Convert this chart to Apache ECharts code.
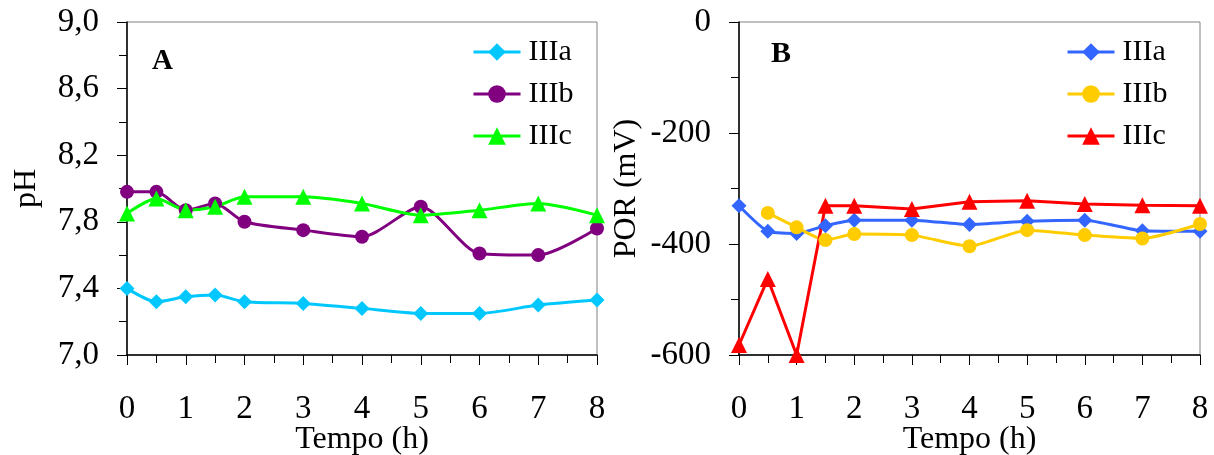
<!DOCTYPE html>
<html>
<head>
<meta charset="utf-8">
<script src="https://cdn.jsdelivr.net/npm/echarts@6/dist/echarts.min.js"></script>
<style>
html,body{margin:0;padding:0;background:#fff;overflow:hidden;}
#chart{width:1214px;height:455px;}
</style>
</head>
<body>
<div id="chart"></div>
<script>
// Time points (h)
var tempo = [0, 0.5, 1, 1.5, 2, 3, 4, 5, 6, 7, 8];
var xTicks = [0, 1, 2, 3, 4, 5, 6, 7, 8];

// Panel A: pH
var pH_IIIa = [7.40, 7.32, 7.35, 7.36, 7.32, 7.31, 7.28, 7.25, 7.25, 7.30, 7.33];
var pH_IIIb = [7.98, 7.98, 7.87, 7.91, 7.80, 7.75, 7.71, 7.89, 7.61, 7.60, 7.76];
var pH_IIIc = [7.85, 7.94, 7.87, 7.89, 7.95, 7.95, 7.91, 7.84, 7.87, 7.91, 7.84];

// Panel B: POR (mV)
var por_IIIa = [-331, -377, -381, -367, -357, -357, -365, -359, -357, -376, -377];
var por_IIIb = [null, -344, -370, -393, -382, -384, -404, -375, -384, -390, -364];
var por_IIIc = [-582, -463, -600, -331, -331, -337, -324, -322, -328, -330, -331];

var seriesNames = ['IIIa', 'IIIb', 'IIIc'];
var yTicksA = ['7,0', '7,4', '7,8', '8,2', '8,6', '9,0'];
var yTicksB = ['-600', '-400', '-200', '0'];

function pairs(xs, ys) {
  return xs.map(function (x, i) { return [x, ys[i] === null ? '-' : ys[i]]; });
}

var FONT = 'Liberation Serif';
var black = '#000';

function xAxis(gridIndex) {
  return {
    type: 'value', gridIndex: gridIndex, min: 0, max: 8, interval: 1,
    name: 'Tempo (h)', nameLocation: 'middle', nameGap: 69, nameMoveOverlap: false,
    nameTextStyle: { fontFamily: FONT, fontSize: 32, color: black },
    axisLine: { show: true, onZero: false, lineStyle: { color: black, width: 1.5 } },
    axisTick: { show: true, length: 10, lineStyle: { color: black, width: 1 } },
    minorTick: { show: true, splitNumber: 2, length: 8, lineStyle: { color: black, width: 1 } },
    splitLine: { show: false },
    axisLabel: { fontFamily: FONT, fontSize: 33, color: black, margin: 38,
      formatter: function (v) { return xTicks.indexOf(v) >= 0 ? String(v) : ''; } }
  };
}

function legend(names, left, fmt) {
  return {
    data: names, orient: 'vertical', left: left, top: 32, itemWidth: 47, itemHeight: 22, itemGap: 12,
    formatter: fmt,
    lineStyle: { width: 3 },
    textStyle: { fontFamily: FONT, fontSize: 30, color: black, padding: [0, 0, 0, 3] }
  };
}

var option = {
  animation: false,
  backgroundColor: '#fff',
  title: [
    { text: 'A', left: 147, top: 42, textStyle: { fontFamily: FONT, fontSize: 29, fontWeight: 'bold', color: black } },
    { text: 'B', left: 766, top: 34, textStyle: { fontFamily: FONT, fontSize: 30, fontWeight: 'bold', color: black } }
  ],
  legend: [
    legend(seriesNames, 467, function (n) { return n; }),
    legend(seriesNames.map(function (n) { return 'B-' + n; }), 1061, function (n) { return n.replace('B-', ''); })
  ],
  grid: [
    { left: 127, top: 22, width: 470, height: 333, show: true, borderColor: '#808080', borderWidth: 1, outerBoundsMode: 'none', containLabel: false },
    { left: 739, top: 22, width: 461, height: 333, show: true, borderColor: '#808080', borderWidth: 1, outerBoundsMode: 'none', containLabel: false }
  ],
  xAxis: [xAxis(0), xAxis(1)],
  yAxis: [
    {
      type: 'value', gridIndex: 0, min: 7.0, max: 9.0, interval: 0.4,
      name: 'pH', nameLocation: 'middle', nameGap: 84, nameMoveOverlap: false,
      nameTextStyle: { fontFamily: FONT, fontSize: 32, color: black },
      axisLine: { show: true, onZero: false, lineStyle: { color: black, width: 1.5 } },
      axisTick: { show: true, length: 10, lineStyle: { color: black, width: 1 } },
      minorTick: { show: true, splitNumber: 2, length: 8, lineStyle: { color: black, width: 1 } },
      splitLine: { show: false },
      axisLabel: { fontFamily: FONT, fontSize: 33, color: black, margin: 28,
        formatter: function (v) { return v.toFixed(1).replace('.', ','); } }
    },
    {
      type: 'value', gridIndex: 1, min: -600, max: 0, interval: 200,
      name: 'POR (mV)', nameLocation: 'middle', nameGap: 96, nameMoveOverlap: false,
      nameTextStyle: { fontFamily: FONT, fontSize: 32, color: black },
      axisLine: { show: true, onZero: false, lineStyle: { color: black, width: 1.5 } },
      axisTick: { show: true, length: 10, lineStyle: { color: black, width: 1 } },
      minorTick: { show: true, splitNumber: 2, length: 8, lineStyle: { color: black, width: 1 } },
      splitLine: { show: false },
      axisLabel: { fontFamily: FONT, fontSize: 33, color: black, margin: 28,
        formatter: function (v) { return String(Math.round(v)); } }
    }
  ],
  series: [
    { name: 'IIIa', type: 'line', xAxisIndex: 0, yAxisIndex: 0, data: pairs(tempo, pH_IIIa), smooth: 0.25,
      symbol: 'diamond', symbolSize: 15, color: '#00C8FF', lineStyle: { width: 3 } },
    { name: 'IIIb', type: 'line', xAxisIndex: 0, yAxisIndex: 0, data: pairs(tempo, pH_IIIb), smooth: 0.25,
      symbol: 'circle', symbolSize: 14, color: '#800080', lineStyle: { width: 3 } },
    { name: 'IIIc', type: 'line', xAxisIndex: 0, yAxisIndex: 0, data: pairs(tempo, pH_IIIc), smooth: 0.25,
      symbol: 'triangle', symbolSize: 16, color: '#00FF00', lineStyle: { width: 3 } },
    { name: 'B-IIIa', type: 'line', xAxisIndex: 1, yAxisIndex: 1, data: pairs(tempo, por_IIIa), smooth: 0.2,
      symbol: 'diamond', symbolSize: 15, color: '#3366FF', lineStyle: { width: 3 } },
    { name: 'B-IIIb', type: 'line', xAxisIndex: 1, yAxisIndex: 1, data: pairs(tempo, por_IIIb), smooth: 0.2,
      symbol: 'circle', symbolSize: 14, color: '#FFCC00', lineStyle: { width: 3 } },
    { name: 'B-IIIc', type: 'line', xAxisIndex: 1, yAxisIndex: 1, data: pairs(tempo, por_IIIc),
      symbol: 'triangle', symbolSize: 16, color: '#FF0000', lineStyle: { width: 3 } }
  ]
};

var chart = echarts.init(document.getElementById('chart'), null, { renderer: 'canvas' });
chart.setOption(option);
</script>
</body>
</html>
